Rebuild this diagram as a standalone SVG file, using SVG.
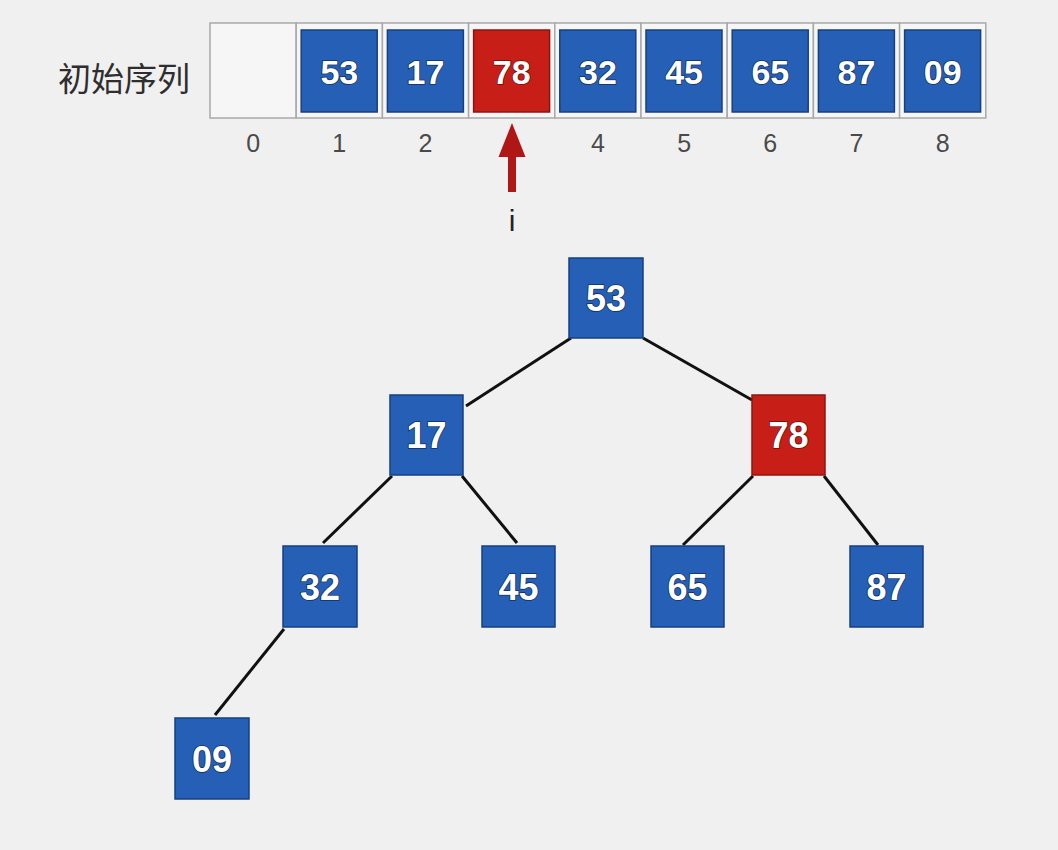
<svg xmlns="http://www.w3.org/2000/svg" width="1058" height="850" viewBox="0 0 1058 850">
<style>
.cell{fill:#f6f6f6;stroke:#a9a9a9;stroke-width:1.5}
.b{fill:#2660b6;stroke:#163f82;stroke-width:1.5}
.r{fill:#c71f18;stroke:#8e1410;stroke-width:1.5}
.v{font-family:"Liberation Sans",Arial,sans-serif;font-weight:bold;fill:#fff;stroke:#13305e;stroke-width:1.6;paint-order:stroke;text-anchor:middle;dominant-baseline:central}
.vr{stroke:#6e0f0b}
.idx{font-family:"Liberation Sans",Arial,sans-serif;font-size:25px;fill:#4a4a4a;text-anchor:middle}
.edge{stroke:#111;stroke-width:3;fill:none}
</style>
<rect width="1058" height="850" fill="#f0f0f0"/>
<text x="124" y="91" font-family="'Noto Sans CJK SC','Liberation Sans',sans-serif" font-size="33" fill="#2e2e2e" text-anchor="middle">初始序列</text>
<g id="array">
<rect class="cell" x="210" y="23" width="86.2" height="95"/>
<rect class="cell" x="296.2" y="23" width="86.2" height="95"/>
<rect class="cell" x="382.4" y="23" width="86.2" height="95"/>
<rect class="cell" x="468.6" y="23" width="86.2" height="95"/>
<rect class="cell" x="554.8" y="23" width="86.2" height="95"/>
<rect class="cell" x="641" y="23" width="86.2" height="95"/>
<rect class="cell" x="727.2" y="23" width="86.2" height="95"/>
<rect class="cell" x="813.4" y="23" width="86.2" height="95"/>
<rect class="cell" x="899.6" y="23" width="86.2" height="95"/>
</g>
<g id="a1"><rect class="b" x="301.2" y="30" width="76" height="82"/><text class="v" x="339.3" y="72" font-size="34">53</text></g>
<g id="a2"><rect class="b" x="387.4" y="30" width="76" height="82"/><text class="v" x="425.5" y="72" font-size="34">17</text></g>
<g id="a3"><rect class="r" x="473.6" y="30" width="76" height="82"/><text class="v vr" x="511.7" y="72" font-size="34">78</text></g>
<g id="a4"><rect class="b" x="559.8" y="30" width="76" height="82"/><text class="v" x="597.9" y="72" font-size="34">32</text></g>
<g id="a5"><rect class="b" x="646" y="30" width="76" height="82"/><text class="v" x="684.1" y="72" font-size="34">45</text></g>
<g id="a6"><rect class="b" x="732.2" y="30" width="76" height="82"/><text class="v" x="770.3" y="72" font-size="34">65</text></g>
<g id="a7"><rect class="b" x="818.4" y="30" width="76" height="82"/><text class="v" x="856.5" y="72" font-size="34">87</text></g>
<g id="a8"><rect class="b" x="904.6" y="30" width="76" height="82"/><text class="v" x="942.7" y="72" font-size="34">09</text></g>
<g id="indices">
<text class="idx" x="253.1" y="152">0</text>
<text class="idx" x="339.3" y="152">1</text>
<text class="idx" x="425.5" y="152">2</text>
<text class="idx" x="597.9" y="152">4</text>
<text class="idx" x="684.1" y="152">5</text>
<text class="idx" x="770.3" y="152">6</text>
<text class="idx" x="856.5" y="152">7</text>
<text class="idx" x="942.7" y="152">8</text>
</g>
<g id="pointer">
<rect x="508" y="154" width="8" height="38" fill="#b01616"/>
<polygon points="512,123 498.5,157 525.5,157" fill="#b01616"/>
<text x="512" y="231" font-family="'Liberation Sans',Arial,sans-serif" font-size="30" fill="#222" text-anchor="middle">i</text>
</g>
<g id="edges">
<line class="edge" x1="571" y1="338" x2="466" y2="406"/>
<line class="edge" x1="643" y1="338" x2="752" y2="400"/>
<line class="edge" x1="392" y1="476" x2="323" y2="543"/>
<line class="edge" x1="462" y1="476" x2="517" y2="543"/>
<line class="edge" x1="753" y1="476" x2="683" y2="545"/>
<line class="edge" x1="824" y1="476" x2="878" y2="545"/>
<line class="edge" x1="284" y1="629" x2="215" y2="715"/>
</g>
<g id="n53"><rect class="b" x="569" y="258" width="74" height="80"/><text class="v" x="606" y="298" font-size="36">53</text></g>
<g id="n17"><rect class="b" x="390" y="395" width="73" height="80"/><text class="v" x="426.5" y="435" font-size="36">17</text></g>
<g id="n78"><rect class="r" x="752" y="395" width="73" height="80"/><text class="v vr" x="788.5" y="435" font-size="36">78</text></g>
<g id="n32"><rect class="b" x="283" y="546" width="74" height="81"/><text class="v" x="320" y="587" font-size="36">32</text></g>
<g id="n45"><rect class="b" x="482" y="546" width="73" height="81"/><text class="v" x="518.5" y="587" font-size="36">45</text></g>
<g id="n65"><rect class="b" x="651" y="546" width="73" height="81"/><text class="v" x="687.5" y="587" font-size="36">65</text></g>
<g id="n87"><rect class="b" x="850" y="546" width="73" height="81"/><text class="v" x="886.5" y="587" font-size="36">87</text></g>
<g id="n09"><rect class="b" x="175" y="718" width="74" height="81"/><text class="v" x="212" y="759" font-size="36">09</text></g>
</svg>
